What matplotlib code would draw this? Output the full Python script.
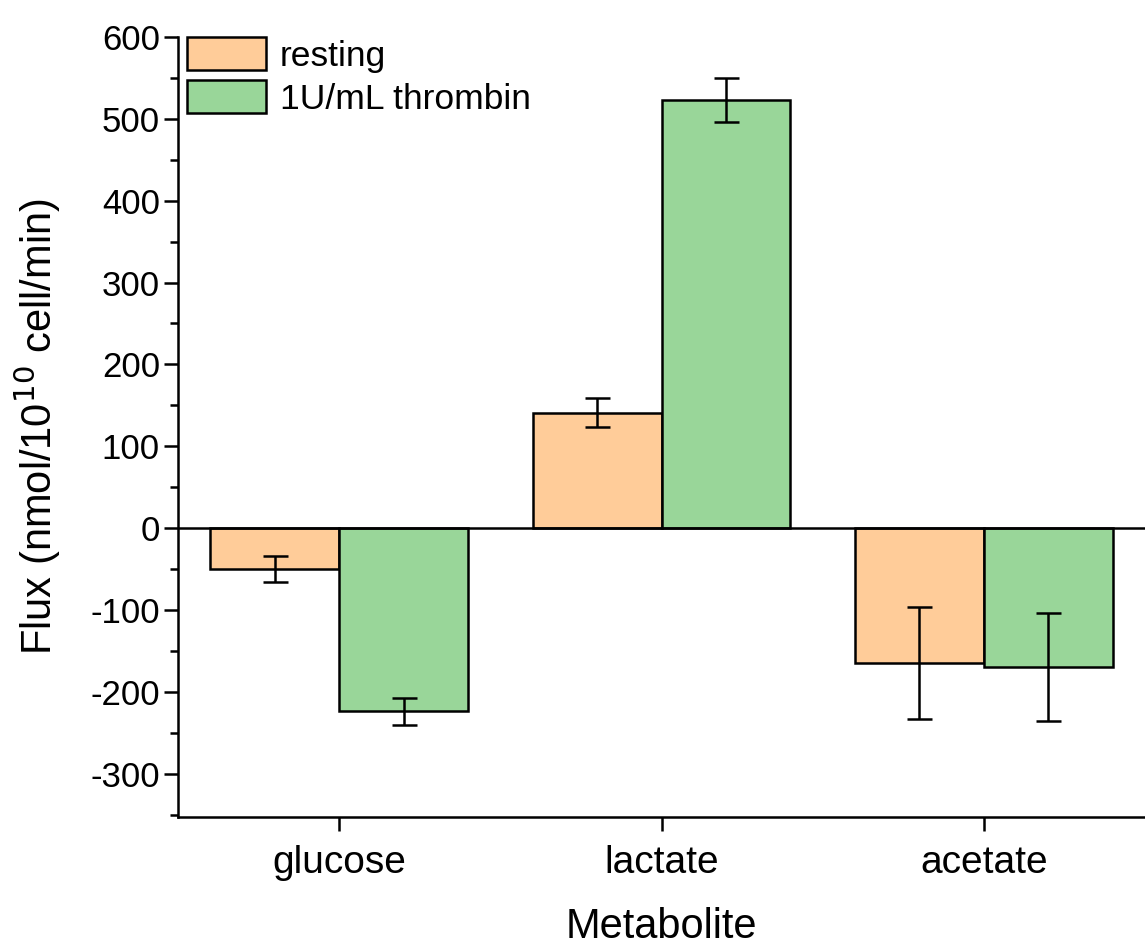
import numpy as np
import matplotlib
matplotlib.use("Agg")
import matplotlib.pyplot as plt
from matplotlib.ticker import MultipleLocator

plt.rcParams['font.family'] = ['Liberation Sans', 'DejaVu Sans']
plt.rcParams['axes.unicode_minus'] = False

metabolites = ["glucose", "lactate", "acetate"]
groups = ["resting", "1U/mL thrombin"]
resting = [-50, 141, -165]
resting_err = [16, 18, 68]
thrombin = [-224, 523, -170]
thrombin_err = [17, 27, 66]

colors = ["#FFCC99", "#99D699"]

fig = plt.figure(figsize=(11.45, 9.5), dpi=100)
ax = fig.add_axes([0.1555, 0.14, 0.8445, 0.821])

x = np.arange(len(metabolites))
w = 0.4
ebar = dict(ecolor="black", elinewidth=1.8, capsize=9, capthick=1.8)
ax.bar(x - w / 2, resting, w, yerr=resting_err, color=colors[0],
       edgecolor="black", linewidth=1.8, label=groups[0], error_kw=ebar)
ax.bar(x + w / 2, thrombin, w, yerr=thrombin_err, color=colors[1],
       edgecolor="black", linewidth=1.8, label=groups[1], error_kw=ebar)
ax.axhline(0, color="black", linewidth=1.8, zorder=1)

ax.set_xlim(-0.5, 2.5)
ax.set_ylim(-353, 600)
ax.set_xticks(x)
ax.set_xticklabels(metabolites)
ax.yaxis.set_major_locator(MultipleLocator(100))
ax.yaxis.set_minor_locator(MultipleLocator(50))

for s in ["top", "right"]:
    ax.spines[s].set_visible(False)
for s in ["left", "bottom"]:
    ax.spines[s].set_linewidth(1.8)

ax.tick_params(axis="both", which="major", length=10, width=1.8, direction="out")
ax.tick_params(axis="y", which="minor", length=6, width=1.8, direction="out")
ax.tick_params(axis="y", labelsize=25, pad=3)
ax.tick_params(axis="x", labelsize=28, pad=10)

ax.set_ylabel("Flux (nmol/10$^{10}$ cell/min)", fontsize=30, labelpad=20)
ax.set_xlabel("Metabolite", fontsize=30, labelpad=19)

ax.legend(loc="upper left", bbox_to_anchor=(0.009, 1.0), fontsize=25.5, frameon=False,
          handlelength=2.23, handleheight=1.07, labelspacing=0.2, handletextpad=0.4,
          borderaxespad=0.0, borderpad=0.0)

fig.savefig("out.png", dpi=100)
